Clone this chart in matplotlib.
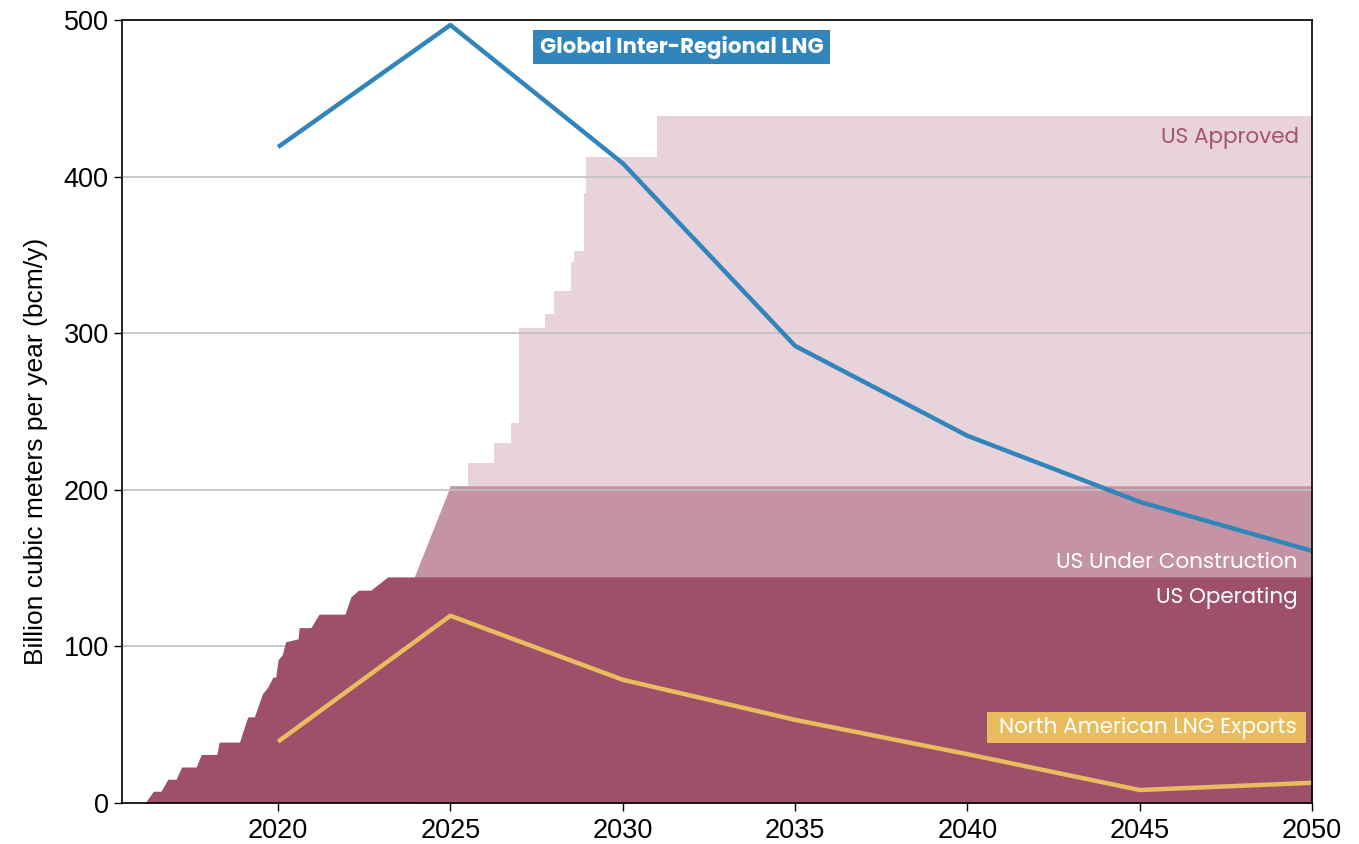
import matplotlib
matplotlib.use("Agg")
import matplotlib.pyplot as plt
from matplotlib.patches import Rectangle

# ---- data ----
op_years = [2016.14, 2016.38, 2016.6, 2016.8, 2017.04, 2017.2, 2017.62, 2017.77, 2018.22, 2018.29,
            2018.88, 2018.96, 2019.12, 2019.31, 2019.55, 2019.69, 2019.85, 2019.93, 2020.0, 2020.12,
            2020.22, 2020.58, 2020.61, 2020.95, 2021.19, 2021.94, 2022.11, 2022.33, 2022.69, 2023.18, 2050.0]
op_vals = [0, 7.5, 7.5, 15.2, 15.2, 23, 23, 31, 31, 38.9,
           38.9, 44.5, 55, 55, 70, 73.7, 80.4, 80.4, 91.5, 94.7,
           103.0, 104.8, 112.0, 112.0, 120.6, 120.6, 131.6, 135.9, 135.9, 144.4, 144.4]

uc_years = [2023.95, 2025.0, 2050.0]
uc_vals = [144.4, 202.6, 202.6]

appr_years = [2025.0, 2025.5, 2026.25, 2026.75, 2027.0, 2027.75, 2028.0, 2028.5, 2028.58,
              2028.88, 2028.92, 2031.0, 2050.0]
appr_vals = [202.6, 217.4, 229.8, 242.5, 303.1, 312.3, 327.2, 345.7, 352.6,
             389.3, 412.3, 438.9, 438.9]

line_years = [2020, 2025, 2030, 2035, 2040, 2045, 2050]
global_lng = [418.9, 496.8, 408.5, 291.9, 234.5, 192.3, 161.0]
na_exports = [39.2, 119.6, 78.7, 53.1, 31.2, 8.3, 12.9]

x_ticks = [2020, 2025, 2030, 2035, 2040, 2045, 2050]
y_ticks = [0, 100, 200, 300, 400, 500]

# ---- colours ----
c_op = "#9e4f69"
c_uc = "#c594a4"
c_appr = "#e8d3db"
c_blue = "#3185bb"
c_yellow = "#e9bd5f"

ann_font = ["Poppins", "Inter", "DejaVu Sans"]
tick_font = ["Liberation Sans", "DejaVu Sans"]

fig = plt.figure(figsize=(13.59, 8.44), dpi=100)
ax = fig.add_axes([122 / 1359, 41 / 844, (1312 - 122) / 1359, (803 - 20) / 844])

ax.fill_between(appr_years, 0, appr_vals, step="post", color=c_appr, lw=0, zorder=1)
ax.fill_between(uc_years, 0, uc_vals, color=c_uc, lw=0, zorder=2)
ax.fill_between(op_years, 0, op_vals, color=c_op, lw=0, zorder=3)

ax.set_xlim(2015.47, 2050)
ax.set_ylim(0, 500)
ax.set_yticks(y_ticks)
ax.set_xticks(x_ticks)
ax.set_xticklabels([str(t) for t in x_ticks])
ax.yaxis.grid(True, color="#c0c0c0", lw=1.2)
ax.set_axisbelow(False)
for gl in ax.get_ygridlines():
    gl.set_zorder(4)

ax.plot(line_years, global_lng, color=c_blue, lw=3.2, zorder=6, solid_capstyle="butt")
ax.plot(line_years, na_exports, color=c_yellow, lw=3.2, zorder=6, solid_capstyle="butt")

ax.tick_params(axis="both", labelsize=19.5, length=6, width=1, direction="out")
ax.tick_params(axis="x", pad=5)
for lab in ax.get_xticklabels() + ax.get_yticklabels():
    lab.set_fontfamily(tick_font)
ax.set_ylabel("Billion cubic meters per year (bcm/y)", fontsize=19, family=tick_font)
ax.yaxis.set_label_coords(-0.0622, 0.4496)
for s in ax.spines.values():
    s.set_linewidth(1.2)
    s.set_color("black")
    s.set_zorder(8)

# annotations
ax.text(0.9891, 0.8493, "US Approved", transform=ax.transAxes, ha="right", va="center",
        fontsize=15.5, color="#a45370", family=ann_font, zorder=7)
ax.text(0.9880, (803 - 563) / 783, "US Under Construction", transform=ax.transAxes,
        ha="right", va="center", fontsize=15.5, color="white", family=ann_font, zorder=7)
ax.text(0.9880, (803 - 598) / 783, "US Operating", transform=ax.transAxes,
        ha="right", va="center", fontsize=15.5, color="white", family=ann_font, zorder=7)

ax.add_patch(Rectangle((0.7269, 0.0766), 0.2681, 0.0396, transform=ax.transAxes,
                       fc=c_yellow, ec="none", zorder=7))
ax.text(0.9874, 0.0964, "North American LNG Exports", transform=ax.transAxes,
        ha="right", va="center", fontsize=15.5, color="white", family=ann_font, zorder=8)

ax.add_patch(Rectangle((0.3454, 0.9438), 0.2496, 0.0434, transform=ax.transAxes,
                       fc=c_blue, ec="none", zorder=7))
ax.text(0.4702, 0.9655, "Global Inter-Regional LNG", transform=ax.transAxes,
        ha="center", va="center", fontsize=15.3, color="white", fontweight="bold",
        family=ann_font, zorder=8)

fig.savefig("out.png", dpi=100)
